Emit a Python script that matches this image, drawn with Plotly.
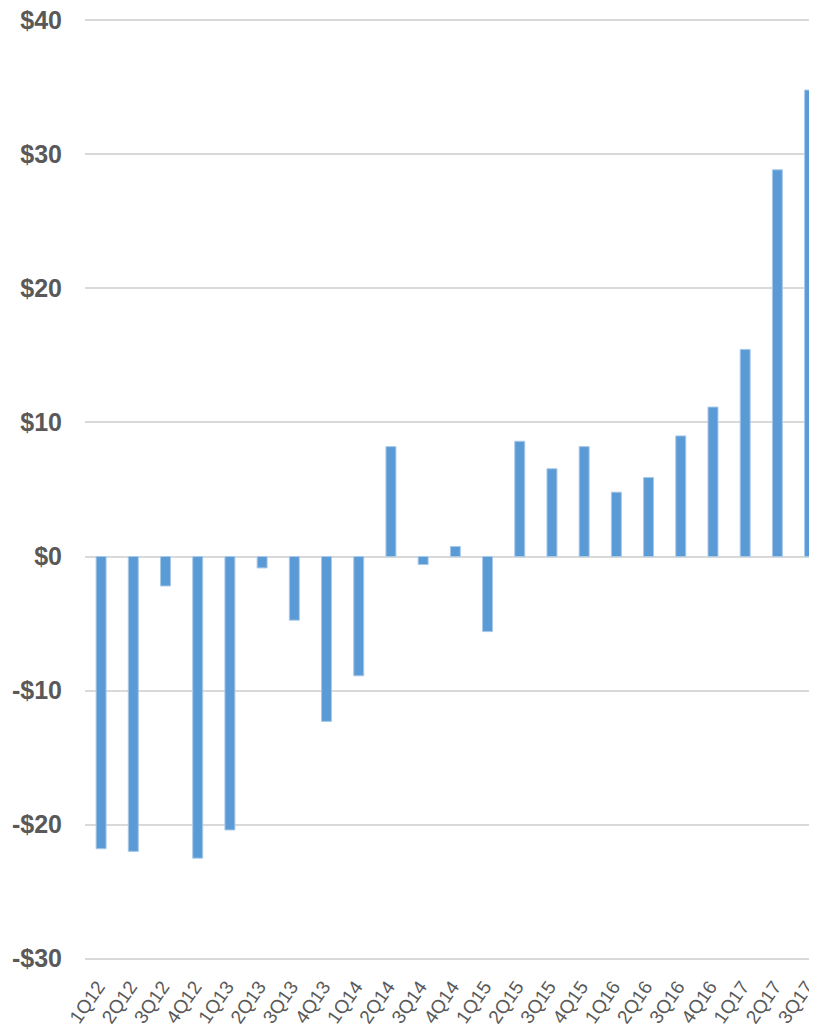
import plotly.graph_objects as go

quarters = ["1Q12", "2Q12", "3Q12", "4Q12", "1Q13", "2Q13", "3Q13", "4Q13",
            "1Q14", "2Q14", "3Q14", "4Q14", "1Q15", "2Q15", "3Q15", "4Q15",
            "1Q16", "2Q16", "3Q16", "4Q16", "1Q17", "2Q17", "3Q17"]
values = [-21.8, -22.0, -2.2, -22.5, -20.4, -0.85, -4.75, -12.3,
          -8.9, 8.2, -0.6, 0.75, -5.6, 8.6, 6.55, 8.2,
          4.8, 5.9, 9.0, 11.15, 15.45, 28.85, 34.8]
y_tickvals = [-30, -20, -10, 0, 10, 20, 30, 40]
y_ticktext = ["-$30", "-$20", "-$10", "$0", "$10", "$20", "$30", "$40"]

fig = go.Figure()
fig.add_trace(go.Bar(
    x=quarters, y=values, width=0.31,
    marker=dict(color="#5B9BD5", line=dict(color="#A9C9EA", width=1)),
))

# page body has an 8px default margin, so the figure is sized to fit the window
fig.update_layout(
    width=809, height=1018,
    margin=dict(l=77, r=0, t=11, b=66),
    plot_bgcolor="white", paper_bgcolor="white",
    showlegend=False,
    font=dict(family="Liberation Sans, Arial, sans-serif", color="#595959"),
    xaxis=dict(
        type="category", range=[-0.5, 22.23], automargin=False,
        showgrid=False, showline=False, zeroline=False,
        tickangle=-55, tickfont=dict(size=19, color="#595959"),
        ticks="", ticklabelstandoff=11, ticklabelshift=-3,
        ticklabeloverflow="allow",
    ),
    yaxis=dict(
        range=[-30.1, 40.1], tickvals=y_tickvals, ticktext=y_ticktext,
        automargin=False, ticklabeloverflow="allow",
        showgrid=True, gridcolor="#D9D9D9", gridwidth=1.5,
        zeroline=True, zerolinecolor="#D9D9D9", zerolinewidth=1.5,
        showline=False, ticks="",
        tickfont=dict(size=25, color="#595959", weight="bold"),
        ticklabelstandoff=22,
    ),
)

fig.write_html("out.html")
